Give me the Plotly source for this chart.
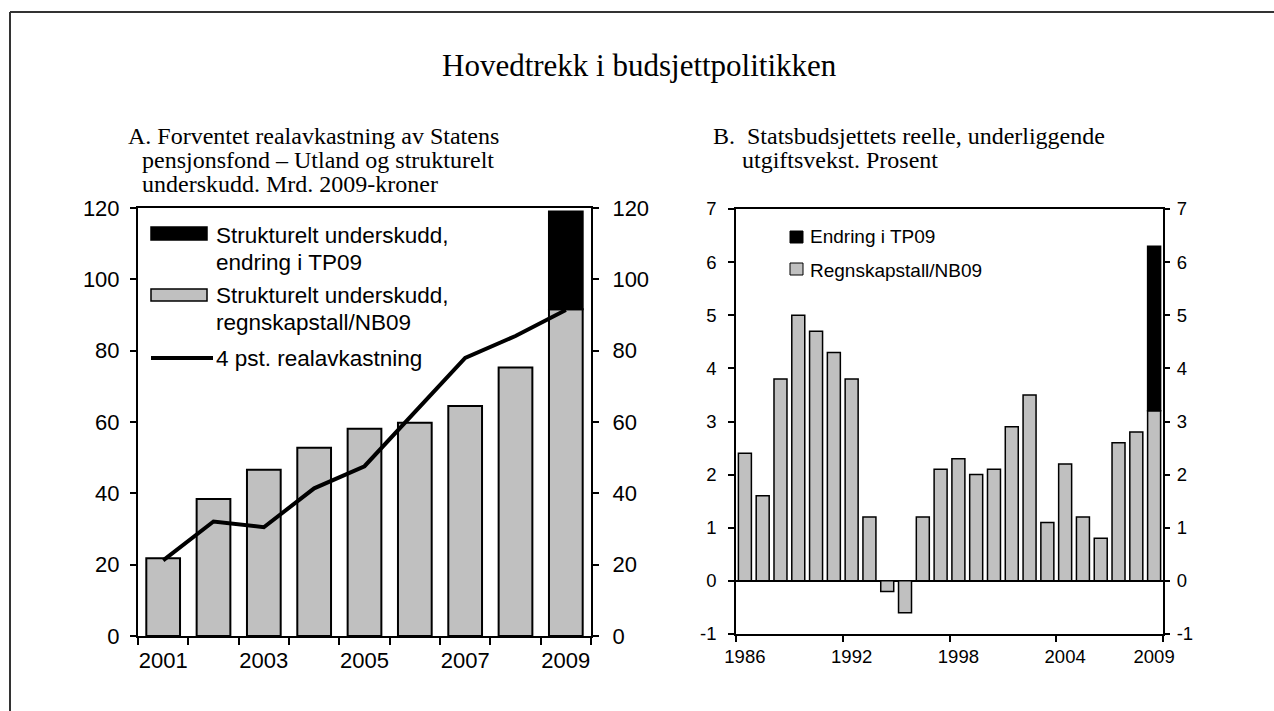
import plotly.graph_objects as go

# --- data -------------------------------------------------------------
years_a = [2001, 2002, 2003, 2004, 2005, 2006, 2007, 2008, 2009]
deficit_nb09 = [21.8, 38.4, 46.6, 52.8, 58.1, 59.8, 64.5, 75.3, 91.6]
deficit_tp09_year = [2009]
deficit_tp09_change = [27.4]
real_return_4pct = [21.2, 32.1, 30.5, 41.4, 47.6, 62.8, 78.0, 84.1, 91.4]

years_b = list(range(1986, 2010))
growth_nb09 = [2.4, 1.6, 3.8, 5.0, 4.7, 4.3, 3.8, 1.2, -0.2, -0.6, 1.2, 2.1,
               2.3, 2.0, 2.1, 2.9, 3.5, 1.1, 2.2, 1.2, 0.8, 2.6, 2.8, 3.2]
growth_tp09_year = [2009]
growth_tp09_change = [3.1]

ticks_a_y = [0, 20, 40, 60, 80, 100, 120]
ticks_a_x = [2001, 2003, 2005, 2007, 2009]
ticks_b_y = [-1, 0, 1, 2, 3, 4, 5, 6, 7]
ticks_b_x = [1986, 1992, 1998, 2004, 2009]
labels_b_y = [str(v) for v in ticks_b_y]  # plain hyphen minus, as in the source

W, H = 1274, 711
GREY = "#c0c0c0"
SANS = "Liberation Sans, Arial, sans-serif"
SERIF = "Liberation Serif, Times New Roman, serif"


def px(x):
    return x / W


def py(y):
    return 1 - y / H


fig = go.Figure()

# panel A
fig.add_trace(go.Bar(x=years_a, y=deficit_nb09, width=0.67, marker_color=GREY,
                     marker_line=dict(color="black", width=2),
                     xaxis="x", yaxis="y", showlegend=False))
fig.add_trace(go.Bar(x=deficit_tp09_year, y=deficit_tp09_change, width=0.67,
                     marker_color="black", marker_line=dict(color="black", width=2),
                     xaxis="x", yaxis="y", showlegend=False))
fig.add_trace(go.Scatter(x=years_a, y=real_return_4pct, mode="lines",
                         line=dict(color="black", width=4),
                         xaxis="x", yaxis="y3", showlegend=False))

# panel B
fig.add_trace(go.Bar(x=years_b, y=growth_nb09, width=0.73, marker_color=GREY,
                     marker_line=dict(color="black", width=1.5),
                     xaxis="x2", yaxis="y2", showlegend=False))
fig.add_trace(go.Bar(x=growth_tp09_year, y=growth_tp09_change, width=0.73,
                     marker_color="black", marker_line=dict(color="black", width=1.5),
                     xaxis="x2", yaxis="y2", showlegend=False))
# keeps the right-hand axis of panel B alive
fig.add_trace(go.Bar(x=growth_tp09_year, y=[0], width=0.73, opacity=0,
                     xaxis="x2", yaxis="y4", showlegend=False, hoverinfo="skip"))

axis_common = dict(showgrid=False, zeroline=False, showline=True, automargin=False,
                   linecolor="black", tickcolor="black")

fig.update_layout(
    template="none",
    width=W, height=H,
    margin=dict(l=0, r=0, t=0, b=0, pad=0, autoexpand=False),
    paper_bgcolor="white", plot_bgcolor="white",
    barmode="relative",
    xaxis=dict(**axis_common, domain=[px(138), px(591)], anchor="y",
               range=[2000.5, 2009.5], tickvals=ticks_a_x, ticks="",
               linewidth=2, mirror=True, ticklabelstandoff=4,
               tickfont=dict(family=SANS, size=22, color="black"),
               minor=dict(tickvals=[y - 0.5 for y in years_a] + [years_a[-1] + 0.5],
                          ticks="outside", ticklen=7, tickwidth=2, tickcolor="black")),
    yaxis=dict(**axis_common, domain=[py(636), py(208)], anchor="x",
               range=[0, 120], tickvals=ticks_a_y, ticks="outside", ticklen=6,
               tickwidth=2, linewidth=2, mirror=True, ticklabelstandoff=6,
               tickfont=dict(family=SANS, size=22, color="black")),
    yaxis3=dict(showgrid=False, zeroline=False, showline=False, automargin=False,
                overlaying="y", side="right", anchor="x", range=[0, 120],
                tickvals=ticks_a_y, ticks="outside", ticklen=7, tickwidth=2,
                tickcolor="black", ticklabelstandoff=9,
                tickfont=dict(family=SANS, size=22, color="black")),
    xaxis2=dict(**axis_common, domain=[px(736), px(1163)], anchor="y2",
                range=[1985.5, 2009.5], tickvals=ticks_b_x, ticks="",
                linewidth=1.5, mirror=True, ticklabelstandoff=5,
                tickfont=dict(family=SANS, size=18.5, color="black"),
                minor=dict(tickvals=[1985.5, 1991.5, 1997.5, 2003.5, 2009.5],
                           ticks="outside", ticklen=6, tickwidth=1.5, tickcolor="black")),
    yaxis2=dict(showgrid=False, showline=True, automargin=False, linecolor="black",
                tickcolor="black", domain=[py(634), py(209)], anchor="x2",
                range=[-1, 7], tickvals=ticks_b_y, ticktext=labels_b_y,
                ticks="outside", ticklen=6, tickwidth=1.5, linewidth=1.5,
                mirror=True, ticklabelstandoff=8,
                zeroline=True, zerolinecolor="black", zerolinewidth=1.5,
                tickfont=dict(family=SANS, size=18.5, color="black")),
    yaxis4=dict(showgrid=False, zeroline=False, showline=False, automargin=False,
                overlaying="y2", side="right", anchor="x2", range=[-1, 7],
                tickvals=ticks_b_y, ticktext=labels_b_y, ticks="outside",
                ticklen=6, tickwidth=1.5, tickcolor="black", ticklabelstandoff=3,
                tickfont=dict(family=SANS, size=18.5, color="black")),
)

shapes = []
annotations = []


def text(x, y, s, size, family=SANS, xanchor="left"):
    annotations.append(dict(x=px(x), y=py(y), xref="paper", yref="paper", text=s,
                            showarrow=False, xanchor=xanchor, yanchor="middle",
                            font=dict(family=family, size=size, color="black")))


def rect(x0, y0, x1, y1, fill, lw=1.5):
    shapes.append(dict(type="rect", xref="paper", yref="paper",
                       x0=px(x0), x1=px(x1), y0=py(y1), y1=py(y0),
                       fillcolor=fill, line=dict(color="black", width=lw)))


# outer frame
shapes.append(dict(type="line", xref="paper", yref="paper", x0=px(10), x1=px(10),
                   y0=0, y1=py(12), line=dict(color="#333333", width=2)))
shapes.append(dict(type="line", xref="paper", yref="paper", x0=px(10), x1=1,
                   y0=py(12), y1=py(12), line=dict(color="#333333", width=2)))

# titles
text(639, 65, "Hovedtrekk i budsjettpolitikken", 31, SERIF, "center")
text(126, 136, "A. Forventet realavkastning av Statens", 24, SERIF)
text(140, 160, "pensjonsfond – Utland og strukturelt", 24, SERIF)
text(140, 184, "underskudd. Mrd. 2009-kroner", 24, SERIF)
text(711, 136, "B.  Statsbudsjettets reelle, underliggende", 24, SERIF)
text(740, 160, "utgiftsvekst. Prosent", 24, SERIF)

# legend panel A
rect(151, 227, 207, 240, "black")
text(214, 235, "Strukturelt underskudd,", 22.5)
text(214, 262, "endring i TP09", 22.5)
rect(151, 289, 207, 301, GREY)
text(214, 295, "Strukturelt underskudd,", 22.5)
text(214, 323, "regnskapstall/NB09", 22.5)
shapes.append(dict(type="line", xref="paper", yref="paper", x0=px(151), x1=px(213),
                   y0=py(358), y1=py(358), line=dict(color="black", width=4)))
text(214, 358, "4 pst. realavkastning", 22.5)

# legend panel B
rect(790, 231, 803, 243, "black", 1)
text(808, 237, "Endring i TP09", 19)
rect(790, 263, 803, 275, GREY, 1)
text(808, 270, "Regnskapstall/NB09", 19)

fig.update_layout(shapes=shapes, annotations=annotations)

# drop the default 8px body margin so the figure sits flush in the window
fig.write_html("out.html", config={"displayModeBar": False},
               post_script="document.body.style.margin='0px';")
